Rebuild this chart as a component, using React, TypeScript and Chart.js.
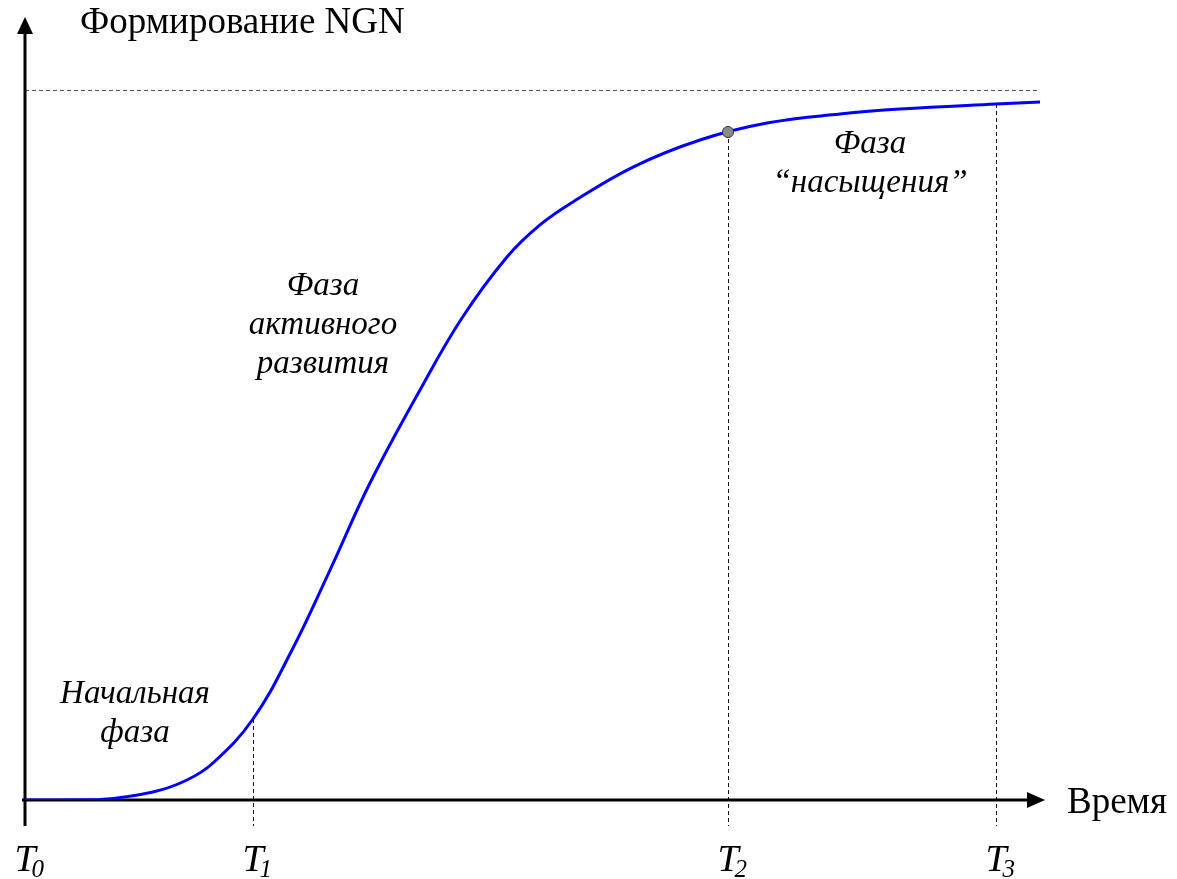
import React, { useEffect, useRef } from "react";
import { Chart, registerables } from "chart.js";

Chart.register(...registerables);

// ---- data (time in arbitrary units, level in % of saturation) ----
const TIME = [0, 7.5, 12.8, 16.2, 18.8, 22.8, 26.7, 30.5, 34.5, 39.5, 43.7, 48.2, 51.5, 54.8, 60.8, 67.5, 74.2, 81.5, 87.5, 97.1, 101.5];
const LEVEL = [0, 0.07, 1.13, 2.82, 5.21, 11.41, 21.13, 32.39, 44.65, 57.75, 67.89, 76.48, 80.99, 84.23, 89.15, 92.96, 95.35, 96.62, 97.32, 98.03, 98.31];

const MARK_SUBS = ["0", "1", "2", "3"];
const MARK_TIME = [0, 22.8, 70.3, 97.1];
const MARK_LEVEL = [0, 11.41, 94.08, 98.03];
const SATURATION = 100;
const HIGHLIGHT_INDEX = 2;

const Y_TITLE = "Формирование NGN";
const X_TITLE = "Время";
const PHASE_LINES = [["Начальная", "фаза"], ["Фаза", "активного", "развития"], ["Фаза", "“насыщения”"]];
const PHASE_TIME = [11, 29.8, 84.5];
const PHASE_LEVEL = [13.7, 71.1, 91.1];

const SERIF = "'Liberation Serif', 'Times New Roman', serif";

const decorPlugin = {
  id: "decor",
  beforeDatasetsDraw(chart: any) {
    const { ctx, scales, chartArea } = chart;
    const xs = scales.x, ys = scales.y;
    const X = (v: number) => xs.getPixelForValue(v);
    const Y = (v: number) => ys.getPixelForValue(v);
    const x0 = X(0), y0 = Y(0);
    ctx.save();
    // saturation dashed line
    ctx.setLineDash([4, 3]);
    ctx.strokeStyle = "#555";
    ctx.lineWidth = 1;
    ctx.beginPath();
    ctx.moveTo(x0, Y(SATURATION) + 0.5);
    ctx.lineTo(chartArea.right, Y(SATURATION) + 0.5);
    ctx.stroke();
    // vertical marker lines
    ctx.strokeStyle = "#111";
    for (let i = 1; i < MARK_TIME.length; i++) {
      const px = Math.round(X(MARK_TIME[i])) + 0.5;
      ctx.beginPath();
      ctx.moveTo(px, Y(MARK_LEVEL[i]));
      ctx.lineTo(px, y0 + 26);
      ctx.stroke();
    }
    ctx.setLineDash([]);
    // axes
    ctx.strokeStyle = "#000";
    ctx.fillStyle = "#000";
    ctx.lineWidth = 3;
    ctx.beginPath();
    ctx.moveTo(x0, y0 + 26);
    ctx.lineTo(x0, chartArea.top - 60);
    ctx.moveTo(x0 - 3, y0);
    ctx.lineTo(chartArea.right - 12, y0);
    ctx.stroke();
    // arrows
    const tipY = chartArea.top - 73;
    ctx.beginPath();
    ctx.moveTo(x0, tipY);
    ctx.lineTo(x0 - 8, tipY + 17);
    ctx.lineTo(x0 + 8, tipY + 17);
    ctx.closePath();
    ctx.fill();
    const tipX = chartArea.right + 5;
    ctx.beginPath();
    ctx.moveTo(tipX, y0);
    ctx.lineTo(tipX - 18, y0 - 8);
    ctx.lineTo(tipX - 18, y0 + 8);
    ctx.closePath();
    ctx.fill();
    ctx.restore();
  },
  afterDatasetsDraw(chart: any) {
    const { ctx, scales, chartArea } = chart;
    const xs = scales.x, ys = scales.y;
    const X = (v: number) => xs.getPixelForValue(v);
    const Y = (v: number) => ys.getPixelForValue(v);
    const x0 = X(0), y0 = Y(0);
    ctx.save();
    // highlighted point
    ctx.beginPath();
    ctx.arc(X(MARK_TIME[HIGHLIGHT_INDEX]), Y(MARK_LEVEL[HIGHLIGHT_INDEX]), 5.5, 0, Math.PI * 2);
    ctx.fillStyle = "#8a8a8a";
    ctx.fill();
    ctx.lineWidth = 1;
    ctx.strokeStyle = "#333";
    ctx.stroke();
    // titles
    ctx.fillStyle = "#000";
    ctx.textBaseline = "alphabetic";
    ctx.textAlign = "left";
    ctx.font = `37px ${SERIF}`;
    ctx.fillText(Y_TITLE, x0 + 55, chartArea.top - 57);
    ctx.fillText(X_TITLE, chartArea.right + 27, y0 + 13);
    // T labels
    for (let i = 0; i < MARK_TIME.length; i++) {
      const px = X(MARK_TIME[i]);
      ctx.font = `italic 38px ${SERIF}`;
      ctx.textAlign = "center";
      ctx.fillText("T", px, y0 + 71);
      const w = ctx.measureText("T").width;
      ctx.font = `italic 25px ${SERIF}`;
      ctx.textAlign = "left";
      ctx.fillText(MARK_SUBS[i], px + w / 2 - 4, y0 + 77);
    }
    // phase labels
    ctx.font = `italic 33px ${SERIF}`;
    ctx.textAlign = "center";
    for (let p = 0; p < PHASE_LINES.length; p++) {
      const cx = X(PHASE_TIME[p]);
      const by = Y(PHASE_LEVEL[p]);
      PHASE_LINES[p].forEach((line, k) => ctx.fillText(line, cx, by + k * 39));
    }
    ctx.restore();
  },
};

export default function App() {
  const ref = useRef<HTMLCanvasElement | null>(null);
  useEffect(() => {
    if (!ref.current) return;
    const chart = new Chart(ref.current, {
      type: "line",
      data: {
        datasets: [
          {
            data: TIME.map((t, i) => ({ x: t, y: LEVEL[i] })),
            borderColor: "#0000ff",
            borderWidth: 3,
            pointRadius: 0,
            tension: 0.4,
            fill: false,
          },
        ],
      },
      options: {
        animation: false,
        responsive: false,
        devicePixelRatio: 1,
        layout: { padding: { left: 25, right: 137, top: 90, bottom: 79 } },
        plugins: { legend: { display: false }, tooltip: { enabled: false }, title: { display: false } },
        scales: {
          x: { type: "linear", min: 0, max: 101.5, display: false },
          y: { type: "linear", min: 0, max: 100, display: false },
        },
      },
      plugins: [decorPlugin],
    } as any);
    return () => chart.destroy();
  }, []);
  return (
    <div style={{ position: "fixed", left: 0, top: 0, width: 1177, height: 879, background: "#fff" }}>
      <canvas ref={ref} width={1177} height={879} style={{ display: "block" }} />
    </div>
  );
}
